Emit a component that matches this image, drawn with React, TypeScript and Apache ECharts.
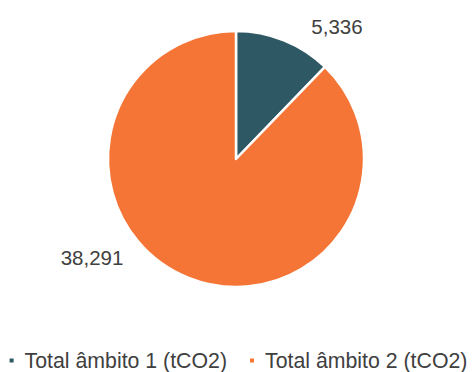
import React, { useEffect, useRef } from "react";
import * as echarts from "echarts";

const categories = ["Total âmbito 1 (tCO2)", "Total âmbito 2 (tCO2)"];
const values = [5336, 38291];
const colors = ["#2E5964", "#F47535"];
const labelPos: [number, number][] = [
  [337, 26],
  [92, 257],
];

const FONT = "Liberation Sans, Arial, sans-serif";

export default function App() {
  const ref = useRef<HTMLDivElement>(null);
  useEffect(() => {
    const chart = echarts.init(ref.current!, null, { renderer: "svg" });
    chart.setOption({
      animation: false,
      textStyle: { fontFamily: FONT },
      legend: {
        left: "center",
        top: 350,
        icon: "rect",
        itemWidth: 6,
        itemHeight: 6,
        itemGap: 21,
        padding: 0,
        textStyle: { fontSize: 21.3, color: "#404040", fontFamily: FONT, padding: [0, 0, 0, 5] },
        data: categories,
      },
      series: [
        {
          type: "pie",
          center: [236, 159],
          radius: 128,
          startAngle: 90,
          clockwise: true,
          itemStyle: { borderColor: "#ffffff", borderWidth: 2.5 },
          label: {
            show: true,
            position: "outside",
            fontSize: 20.5,
            color: "#404040",
            fontFamily: FONT,
            formatter: (p: any) => p.value.toLocaleString("en-US"),
          },
          labelLine: { show: false },
          labelLayout: (params: any) => {
            const pos = labelPos[params.dataIndex];
            return { x: pos[0], y: pos[1], align: "center", verticalAlign: "middle" };
          },
          emphasis: { disabled: true },
          data: categories.map((c, i) => ({ name: c, value: values[i], itemStyle: { color: colors[i] } })),
        },
      ],
    });
    return () => chart.dispose();
  }, []);
  return <div ref={ref} style={{ width: 475, height: 372, position: "absolute", left: 0, top: 0 }} />;
}
